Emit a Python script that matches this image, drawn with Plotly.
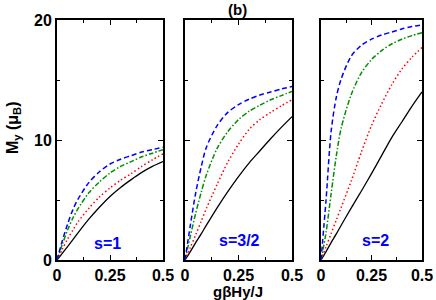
import plotly.graph_objects as go

# Field values (g*beta*H_y/J)
x_grid = [0, 0.025, 0.05, 0.075, 0.1, 0.15, 0.2, 0.25, 0.3, 0.35, 0.4, 0.45, 0.5]

# Panel s=1
s1_black = [0, 0.55, 1.12, 1.7, 2.28, 3.4, 4.4, 5.3, 6.05, 6.7, 7.3, 7.8, 8.2]
s1_red   = [0, 0.9, 1.75, 2.5, 3.2, 4.3, 5.25, 6.0, 6.65, 7.2, 7.8, 8.35, 8.85]
s1_green = [0, 1.3, 2.5, 3.5, 4.3, 5.6, 6.5, 7.25, 7.8, 8.2, 8.6, 8.9, 9.2]
s1_blue  = [0, 1.6, 3.0, 4.2, 5.1, 6.45, 7.35, 8.0, 8.4, 8.7, 9.0, 9.2, 9.4]

# Panel s=3/2
s32_black = [0, 0.7, 1.45, 2.15, 2.9, 4.35, 5.7, 6.95, 8.1, 9.1, 10.1, 11.05, 11.95]
s32_red   = [0, 1.05, 2.1, 3.2, 4.3, 6.3, 8.15, 9.65, 10.9, 11.7, 12.3, 12.85, 13.35]
s32_green = [0, 2.0, 3.9, 5.6, 7.1, 9.3, 10.7, 11.7, 12.4, 12.9, 13.35, 13.7, 14.05]
s32_blue  = [0, 2.9, 5.6, 7.7, 9.4, 11.2, 12.3, 12.95, 13.4, 13.75, 14.0, 14.25, 14.45]

# Panel s=2
s2_black = [0, 0.7, 1.45, 2.15, 2.9, 4.35, 5.75, 7.2, 8.7, 10.2, 11.5, 12.8, 14.0]
s2_red   = [0, 1.1, 2.2, 3.3, 4.4, 6.6, 9.0, 11.2, 13.0, 14.6, 15.9, 16.9, 17.7]
s2_green = [0, 2.3, 5.5, 8.6, 11.0, 13.8, 15.6, 16.7, 17.45, 18.0, 18.4, 18.7, 18.95]
s2_blue  = [0, 5.0, 10.7, 13.5, 15.1, 17.0, 17.9, 18.4, 18.75, 19.0, 19.25, 19.45, 19.6]

panel_labels = ["s=1", "s=3/2", "s=2"]
x_ticks = [0, 0.25, 0.5]
x_ticklabels = ["0", "0.25", "0.5"]
y_ticks = [0, 10, 20]

panels = [
    (s1_black, s1_red, s1_green, s1_blue),
    (s32_black, s32_red, s32_green, s32_blue),
    (s2_black, s2_red, s2_green, s2_blue),
]
label_pos = [(0.24, 1.4), (0.256, 1.6), (0.27, 1.6)]

styles = [
    dict(color="black", width=1.3, dash="solid"),
    dict(color="#ff0000", width=1.5, dash="1.5px,2.5px"),
    dict(color="#008f00", width=1.5, dash="5px,2px,1.5px,2px"),
    dict(color="#0000ff", width=1.5, dash="5px,3px"),
]

W, H = 436, 300
xdom = [(57, 163), (185, 292), (321, 422)]
ytop, ybot = 20, 260

fig = go.Figure()
font_b = "Liberation Sans, Arial, sans-serif"

for i, series in enumerate(panels):
    xa = "x" if i == 0 else f"x{i+1}"
    ya = "y" if i == 0 else f"y{i+1}"
    for s, st in zip(series, styles):
        fig.add_trace(go.Scatter(x=x_grid, y=s, mode="lines", line=dict(shape="spline", smoothing=0.8, **st),
                                 xaxis=xa, yaxis=ya, showlegend=False, hoverinfo="skip"))
    xk = "xaxis" if i == 0 else f"xaxis{i+1}"
    yk = "yaxis" if i == 0 else f"yaxis{i+1}"
    axcommon = dict(showgrid=False, zeroline=False, showline=True, linecolor="black", linewidth=2,
                    mirror="allticks", ticks="inside", ticklen=5, tickwidth=1.2, tickcolor="black",
                    tickfont=dict(family=font_b, size=16, color="black", weight="bold"))
    fig.layout[xk] = dict(domain=[xdom[i][0] / W, xdom[i][1] / W], range=[0, 0.5], anchor=ya,
                          tickvals=x_ticks, ticktext=x_ticklabels, ticklabelstandoff=0,
                          minor=dict(dtick=0.125, ticks="inside", ticklen=3, tickwidth=1.2, tickcolor="black"),
                          **axcommon)
    fig.layout[yk] = dict(domain=[1 - ybot / H, 1 - ytop / H], range=[0, 20], anchor=xa,
                          tickvals=y_ticks, showticklabels=(i == 0), ticklabelstandoff=0,
                          minor=dict(dtick=5, ticks="inside", ticklen=3, tickwidth=1.2, tickcolor="black"),
                          **axcommon)
    fig.add_annotation(x=label_pos[i][0], y=label_pos[i][1], xref=xa, yref=ya, text=f"<b>{panel_labels[i]}</b>",
                       showarrow=False, font=dict(family=font_b, size=16, color="#0000ff"))

fig.add_annotation(x=238 / W, y=1 - 9 / H, xref="paper", yref="paper", text="<b>(b)</b>", showarrow=False,
                   xanchor="center", yanchor="middle", font=dict(family=font_b, size=15, color="black"))
fig.add_annotation(x=238 / W, y=1 - 291 / H, xref="paper", yref="paper", text="<b>gβHy/J</b>", showarrow=False,
                   xanchor="center", yanchor="middle", font=dict(family=font_b, size=15, color="black"))
fig.add_annotation(x=13 / W, y=1 - 128 / H, xref="paper", yref="paper",
                   text="<b>M<sub>y</sub> (μ<sub>B</sub>)</b>", textangle=-90, showarrow=False,
                   xanchor="center", yanchor="middle", font=dict(family=font_b, size=16, color="black"))

fig.update_layout(width=W, height=H, margin=dict(l=0, r=0, t=0, b=0, autoexpand=False),
                  paper_bgcolor="white", plot_bgcolor="white")
fig.write_html("out.html", config={"displayModeBar": False},
               post_script="document.body.style.margin='0';document.body.style.overflow='hidden';")
